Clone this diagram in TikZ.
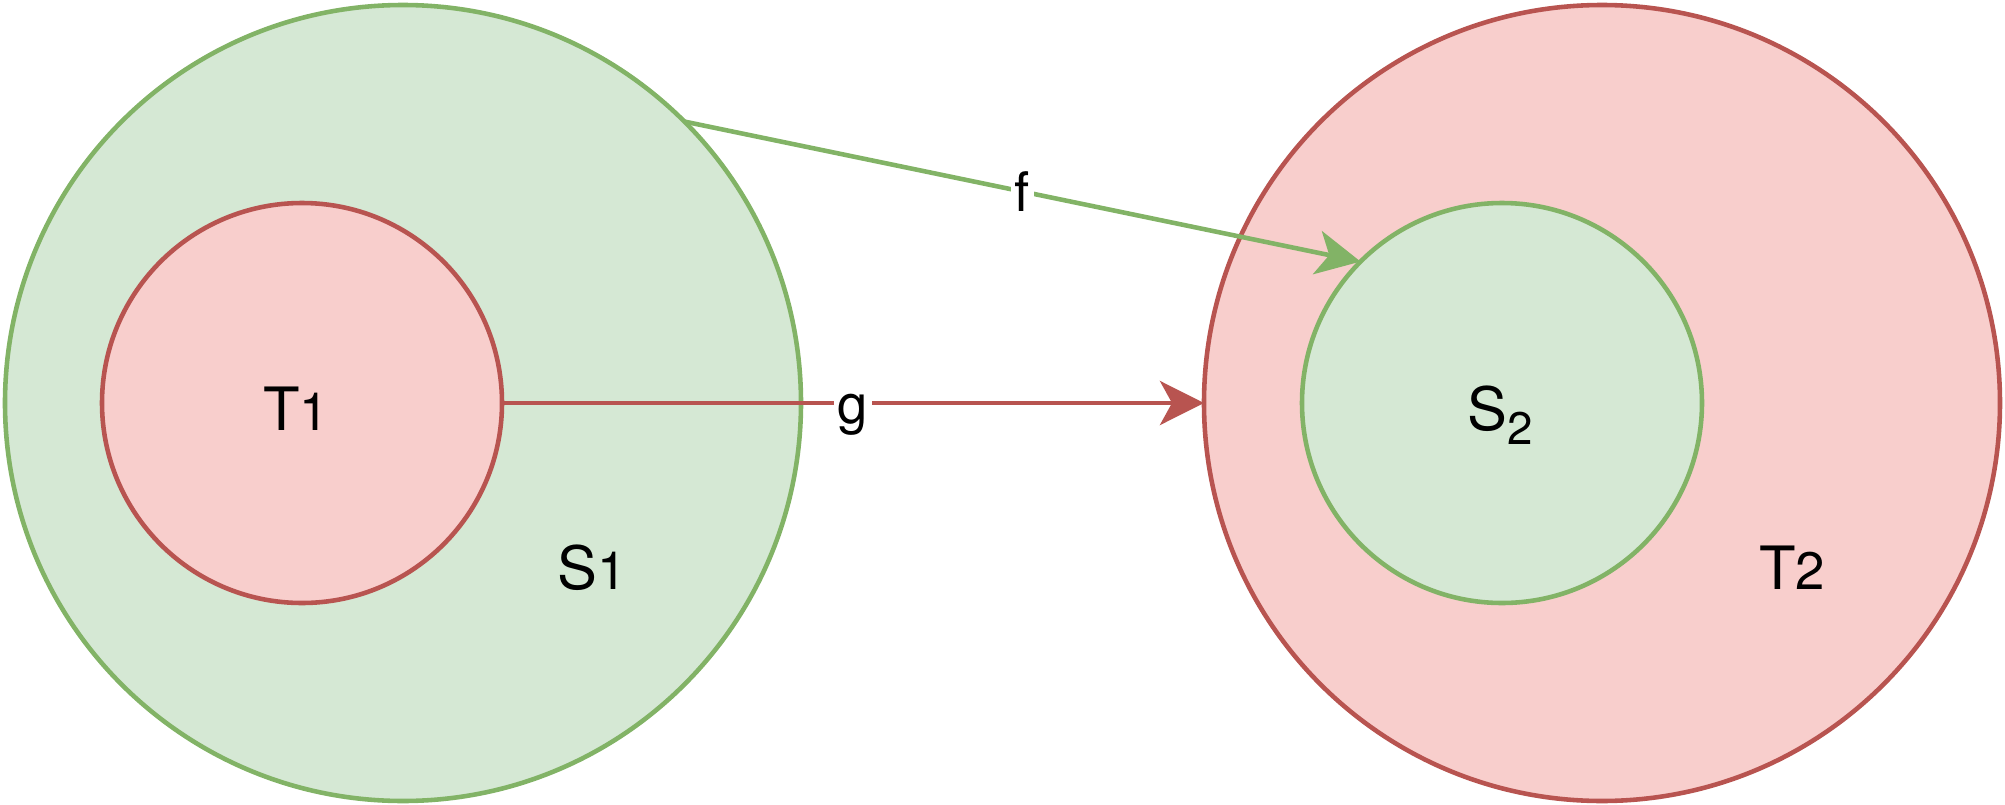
\documentclass[tikz,border=0pt]{standalone}
\usepackage{fontspec}
\setmainfont{TeX Gyre Heros}
\usetikzlibrary{arrows.meta,positioning,calc}
\definecolor{greenfill}{HTML}{D5E8D4}
\definecolor{greenline}{HTML}{82B366}
\definecolor{redfill}{HTML}{F8CECC}
\definecolor{redline}{HTML}{B85450}
\def\setname#1#2% Syntax: {letter}{index}
    {{\fontsize{17}{20}\selectfont #1}{\fontsize{15}{18}\selectfont #2}}

\begin{document}
\begin{tikzpicture}
    [set1/.style={circle,draw=greenline,fill=greenfill,line width=1.3pt,inner sep=0,outer sep=0},
    set2/.style={circle,draw=redline,fill=redfill,line width=1.3pt,inner sep=0,outer sep=0},
    name1/.style={anchor=base,inner sep=0},
    map1/.style={greenline,line width=1.3pt,-{Stealth[length=0.44cm,width=0.44cm,inset=0.12cm]}},
    map2/.style={redline,line width=1.3pt,-{Stealth[length=0.44cm,width=0.44cm,inset=0.12cm]}},
    maplabel/.style={fill=white,text=black,inner sep=1.2pt,text height=0.4cm,text depth=0pt,font=\fontsize{15.5}{18}\selectfont}]

    \coordinate[] (c1) at (4.03,-4.03);
    \coordinate[] (c2) at (16.02,-4.03);

    % sets
    \node[set1, minimum size=7.96cm] (s1) at (c1) {};
    \node[set2, minimum size=4cm] (t1) at ($(c1)+(-1.01,0)$) {};
    \node[set2, minimum size=7.96cm] (t2) at (c2) {};
    \node[set1, minimum size=4cm] (s2) at ($(c2)+(-1.0,0)$) {};

    \node[name1] (t1name) at ($(t1)+(-0.06,-0.27)$) {\setname{T}{1}};
    \node[name1] (s1name) at ($(c1)+(1.89,-1.86)$) {\setname{S}{1}};
    \node[name1] (t2name) at ($(c2)+(1.90,-1.86)$) {\setname{T}{2}};
    \node[name1] (s2name) at ($(s2)+(-0.02,-0.27)$)
        {{\fontsize{17}{20}\selectfont S}\raisebox{-0.14cm}{\fontsize{13}{15}\selectfont 2}};

    % maps
    \draw [map1] (s1.45) -- (s2.135) node[midway,maplabel] (flabel) {f};
    \draw [map2] (t1.east) -- (t2.west) node[midway,maplabel] (glabel) {g};

    \pgfresetboundingbox
    \useasboundingbox (0,0) rectangle (20.05,-8.05);
\end{tikzpicture}
\end{document}
